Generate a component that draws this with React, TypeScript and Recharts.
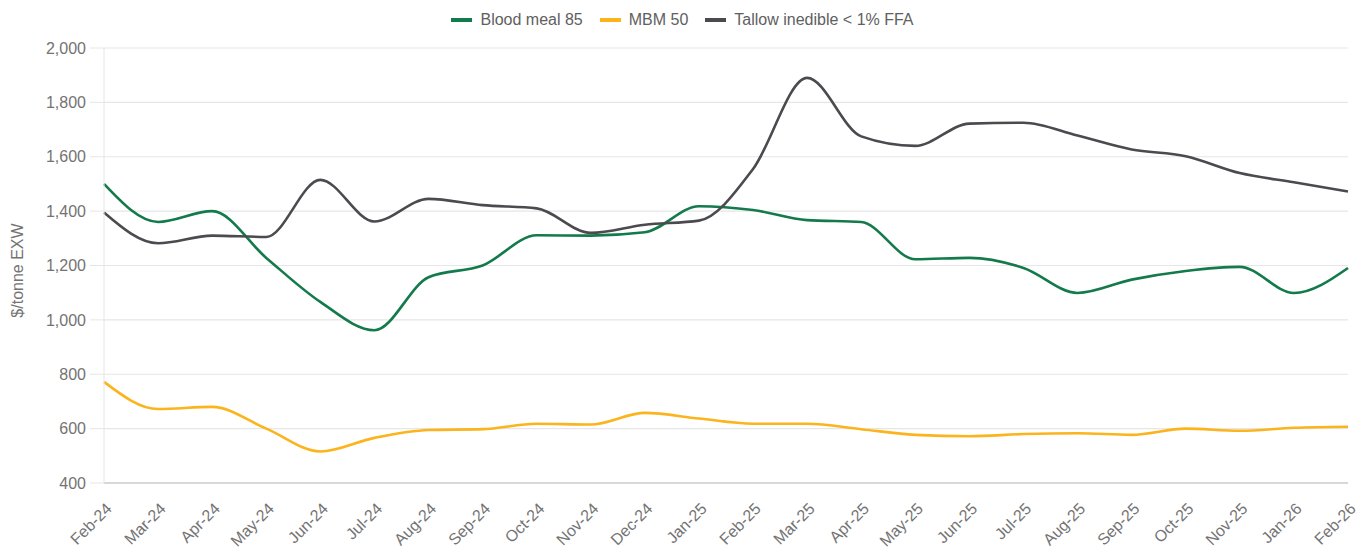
import React from "react";
import { LineChart, Line, XAxis, YAxis, CartesianGrid } from "recharts";

const months = [
  "Feb-24", "Mar-24", "Apr-24", "May-24", "Jun-24", "Jul-24", "Aug-24", "Sep-24",
  "Oct-24", "Nov-24", "Dec-24", "Jan-25", "Feb-25", "Mar-25", "Apr-25", "May-25",
  "Jun-25", "Jul-25", "Aug-25", "Sep-25", "Oct-25", "Nov-25", "Jan-26", "Feb-26",
];

const bloodMeal85 = [
  1500, 1360, 1400, 1228, 1066, 962, 1157, 1200, 1311, 1310, 1322, 1418,
  1404, 1367, 1360, 1223, 1228, 1191, 1099, 1148, 1180, 1195, 1099, 1191,
];

const mbm50 = [
  772, 672, 680, 600, 516, 566, 595, 598, 618, 615, 658, 637,
  618, 618, 598, 577, 572, 580, 583, 577, 600, 592, 603, 607,
];

const tallow = [
  1395, 1282, 1310, 1305, 1515, 1362, 1445, 1422, 1410, 1320, 1350, 1365,
  1555, 1890, 1675, 1640, 1722, 1725, 1678, 1627, 1602, 1540, 1506, 1472,
];

const yTicks = [400, 600, 800, 1000, 1200, 1400, 1600, 1800, 2000];

const series = [
  { key: "blood", name: "Blood meal 85", color: "#127a4b", values: bloodMeal85 },
  { key: "mbm", name: "MBM 50", color: "#fbb41c", values: mbm50 },
  { key: "tallow", name: "Tallow inedible < 1% FFA", color: "#4a4a4f", values: tallow },
];

const data = months.map((m, i) => {
  const row: Record<string, string | number> = { month: m };
  series.forEach((s) => {
    row[s.key] = s.values[i];
  });
  return row;
});

const FONT = "'Liberation Sans', Arial, sans-serif";
const TEXT = "#737373";

const XTick = (props: any) => {
  const { x, y, payload } = props;
  return (
    <g transform={`translate(${x + 1},${y + 11})`}>
      <text
        x={0}
        y={0}
        dy={11}
        textAnchor="end"
        transform="rotate(-45)"
        fill={TEXT}
        fontSize={16}
        fontFamily={FONT}
      >
        {payload.value}
      </text>
    </g>
  );
};

export default function App() {
  return (
    <div style={{ position: "absolute", left: 0, top: 0, width: 1365, height: 554, background: "#fff" }}>
      <div
        style={{
          position: "absolute",
          top: 11,
          left: 0,
          width: 1365,
          display: "flex",
          justifyContent: "center",
          alignItems: "center",
          fontFamily: FONT,
          fontSize: 16,
          color: "#606060",
        }}
      >
        {series.map((s, i) => (
          <div key={s.key} style={{ display: "flex", alignItems: "center", marginLeft: i === 0 ? 0 : 17 }}>
            <div style={{ width: 21, height: 4, background: s.color, marginRight: 8 }} />
            <span>{s.name}</span>
          </div>
        ))}
      </div>
      <LineChart
        width={1365}
        height={554}
        data={data}
        margin={{ top: 48, right: 17, bottom: 0, left: 0 }}
      >
        <CartesianGrid vertical={false} stroke="#e6e6e6" strokeWidth={1.2} />
        <XAxis
          dataKey="month"
          height={71}
          interval={0}
          tick={<XTick />}
          tickLine={false}
          axisLine={{ stroke: "#cfcfcf", strokeWidth: 1.5 }}
        />
        <YAxis
          width={104}
          domain={[400, 2000]}
          ticks={yTicks}
          tickSize={14}
          tickMargin={4}
          tickLine={{ stroke: "#e6e6e6" }}
          axisLine={{ stroke: "#e6e6e6" }}
          tickFormatter={(v: number) => v.toLocaleString("en-US")}
          tick={{ fill: TEXT, fontSize: 16, fontFamily: FONT }}
          label={{
            value: "$/tonne EXW",
            angle: -90,
            position: "insideLeft",
            offset: 17,
            dy: 5,
            style: { textAnchor: "middle", fill: TEXT, fontSize: 16, fontFamily: FONT },
          }}
        />
        {series.map((s) => (
          <Line
            key={s.key}
            type="monotone"
            dataKey={s.key}
            name={s.name}
            stroke={s.color}
            strokeWidth={2.6}
            dot={false}
            activeDot={false}
            isAnimationActive={false}
          />
        ))}
      </LineChart>
    </div>
  );
}
